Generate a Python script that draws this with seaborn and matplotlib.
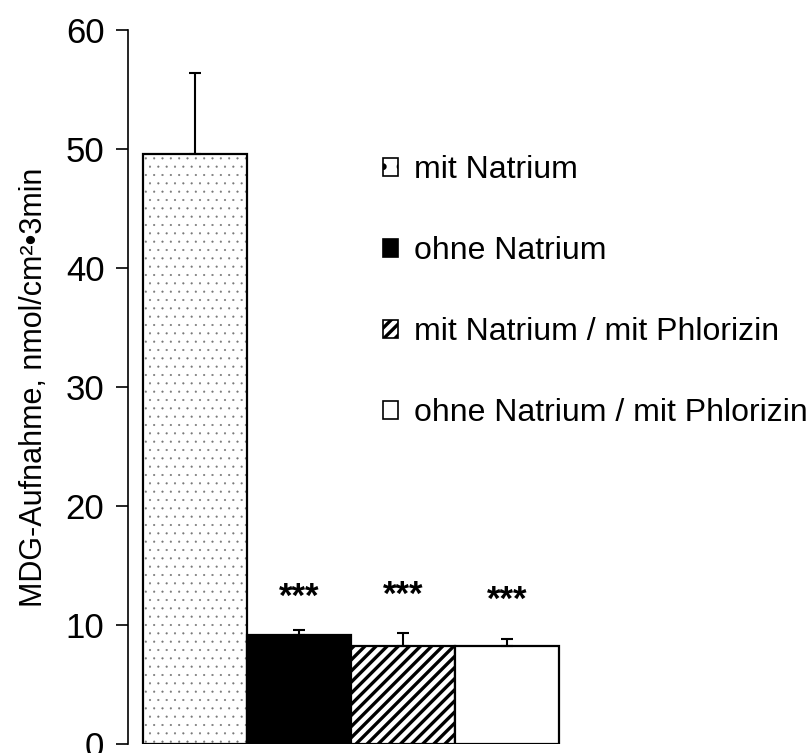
import matplotlib
matplotlib.use("Agg")
import matplotlib.pyplot as plt
import seaborn as sns
import pandas as pd
import numpy as np
from matplotlib.patches import Patch, Rectangle

# ---- data ----
categories = ["mit Natrium", "ohne Natrium", "mit Natrium / mit Phlorizin", "ohne Natrium / mit Phlorizin"]
values = [49.6, 9.15, 8.2, 8.25]
errors_up = [6.8, 0.45, 1.1, 0.6]
star_labels = ["", "***", "***", "***"]
star_y = [None, 11.5, 11.7, 11.3]
y_ticks = [0, 10, 20, 30, 40, 50, 60]
y_label = "MDG-Aufnahme, nmol/cm²•3min"

sns.set_theme(style="white")
plt.rcParams["font.family"] = ["Liberation Sans", "DejaVu Sans"]
plt.rcParams["text.color"] = "black"
plt.rcParams["axes.labelcolor"] = "black"
plt.rcParams["hatch.linewidth"] = 2.4
plt.rcParams["hatch.color"] = "black"

fills = ["white", "black", "white", "white"]
hatches = ["..", "", "///", ""]

df = pd.DataFrame({"cat": categories, "val": values})

fig = plt.figure(figsize=(8.08, 7.53), dpi=100)
ax = fig.add_axes([128 / 808, 9 / 753, (574 - 128) / 808, (744 - 30) / 753])

sns.barplot(data=df, x="cat", y="val", hue="cat", order=categories, hue_order=categories,
            palette=fills, dodge=False, width=1.0, legend=False, errorbar=None,
            edgecolor="black", linewidth=1.6, ax=ax, saturation=1)

bars = list(ax.patches)
for b, h in zip(bars, hatches):
    if h:
        b.set_hatch(h)

# dotted bar: fine grey dots, black outline on top
dot_bar = bars[0]
dot_bar.set_edgecolor("#777777")
dot_bar.set_linewidth(0)
if hasattr(dot_bar, "set_hatch_linewidth"):
    dot_bar.set_hatch_linewidth(0.3)
else:
    dot_bar._hatch_linewidth = 0.3
ax.add_patch(Rectangle(dot_bar.get_xy(), dot_bar.get_width(), dot_bar.get_height(),
                       fill=False, edgecolor="black", linewidth=1.6, zorder=dot_bar.get_zorder() + 0.1))

xs = [b.get_x() + b.get_width() / 2 for b in bars]
tops = [b.get_height() for b in bars]
ax.errorbar(xs, tops, yerr=[np.zeros(len(errors_up)), errors_up], fmt="none",
            ecolor="black", elinewidth=1.5, capsize=4, capthick=1.5, zorder=1)

for x, s, y in zip(xs, star_labels, star_y):
    if s:
        ax.text(x, y, s, ha="center", va="baseline", fontsize=25, fontweight="bold", color="black")

ax.set_ylim(0, 60)
ax.set_yticks(y_ticks)
ax.set_xlim(-0.644, 3.644)
ax.set_xticks([])
ax.set_xlabel("")
ax.set_ylabel(y_label, fontsize=22, labelpad=12, color="black")
ax.tick_params(axis="y", which="major", direction="out", length=9, width=1.2,
               pad=8, labelsize=25, left=True, colors="black")
for s in ["top", "right", "bottom"]:
    ax.spines[s].set_visible(False)
ax.spines["left"].set_color("black")
ax.spines["left"].set_linewidth(1.2)

handles = [Patch(facecolor=f, edgecolor="black", hatch=("." if h == ".." else h), linewidth=1.2)
           for f, h in zip(fills, hatches)]
fig.legend(handles, categories, loc="upper left", bbox_to_anchor=(383 / 808, 1 - 155 / 753),
           frameon=False, fontsize=23, handlelength=0.48, handleheight=0.48,
           handletextpad=0.48, labelspacing=1.6, borderpad=0, borderaxespad=0,
           labelcolor="black")

fig.savefig("out.png", dpi=100)
